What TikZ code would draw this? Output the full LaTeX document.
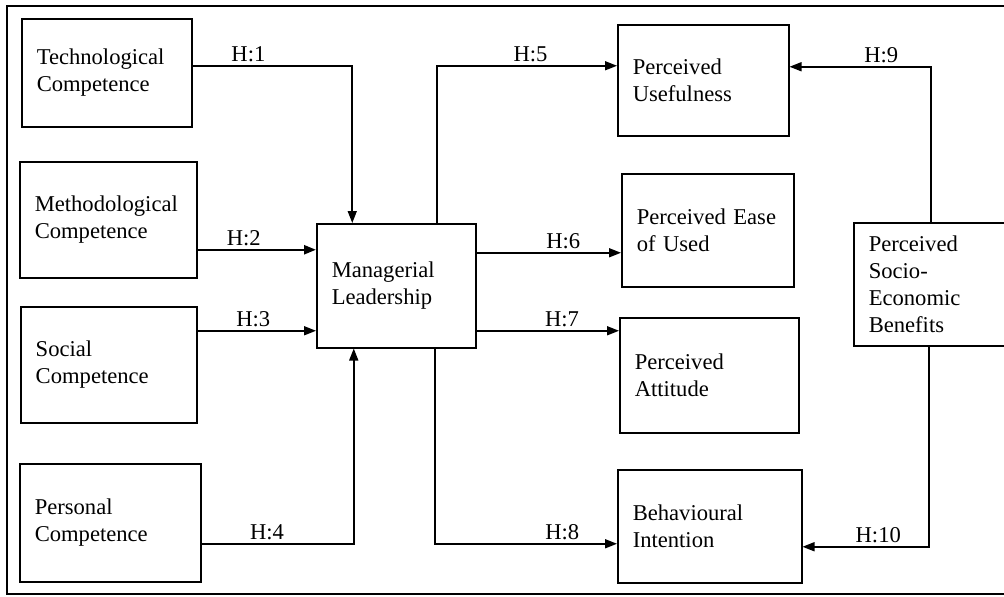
\documentclass[tikz,border=0pt]{standalone}
\usepackage{fontspec}
\setmainfont{Liberation Serif}
\usetikzlibrary{arrows.meta,positioning}
\hyphenpenalty=10000
\exhyphenpenalty=10000

\begin{document}
\begin{tikzpicture}[
  x=0.5pt, y=-0.5pt,
  font=\fontsize{11.3}{13.5}\selectfont,
  box/.style={draw, line width=0.75pt, anchor=north west, align=left, inner xsep=7.5pt, inner ysep=0pt},
  arr/.style={-{Triangle[length=6pt,width=4.5pt]}, line width=0.8pt},
  lbl/.style={above, inner sep=1.5pt}
]
\useasboundingbox (0,0) rectangle (1004,596);
\draw[line width=0.8pt] (7,6) rectangle (1014,594);

% left column
\node[box, text width=70pt, minimum height=54pt] (tech) at (21,18) {Technological\\Competence};
\node[box, text width=73.5pt, minimum height=58pt] (meth) at (19,161) {Methodological\\Competence};
\node[box, text width=73pt, minimum height=58pt] (social) at (20,306) {Social\\Competence};
\node[box, text width=75.5pt, minimum height=59pt] (personal) at (19,463) {Personal\\Competence};

% centre
\node[box, text width=64.5pt, minimum height=62pt] (manag) at (316,223) {Managerial\\Leadership};

% right column
\node[box, text width=70.5pt, minimum height=55.5pt] (useful) at (617,24) {Perceived\\Usefulness};
\node[box, text width=71pt, minimum height=56.5pt] (ease) at (621,173) {Perceived Ease\\of Used};
\node[box, text width=74.5pt, minimum height=57.5pt] (attitude) at (619,317) {Perceived\\Attitude};
\node[box, text width=77pt, minimum height=56.5pt] (intention) at (617,469) {Behavioural\\Intention};
\node[box, text width=67.5pt, minimum height=61.5pt] (socio) at (853,222) {Perceived\\Socio-\\Economic\\Benefits};

% hypotheses
\draw[arr] ([yshift=3.5pt]tech.east) -| node[lbl, pos=0.175] {H:1} ([xshift=-22pt]manag.north);
\draw[arr, line width=1.2pt] ([yshift=-15pt]meth.east) -- node[lbl, pos=0.39] {H:2} ([yshift=18pt]manag.west);
\draw[arr] ([yshift=17pt]social.east) -- node[lbl, pos=0.47] {H:3} ([yshift=-22.5pt]manag.west);
\draw[arr] ([yshift=-10.5pt]personal.east) -| node[lbl, pos=0.215] {H:4} ([xshift=-21.25pt]manag.south);
\draw[arr] ([xshift=20.25pt]manag.north) |- node[lbl, pos=0.76] {H:5} ([yshift=7.25pt]useful.west);
\draw[arr] ([yshift=16.5pt]manag.east) -- node[lbl, pos=0.6] {H:6} ([yshift=-11.25pt]ease.west);
\draw[arr] ([yshift=-22.5pt]manag.east) -- node[lbl, pos=0.6] {H:7} ([yshift=22.25pt]attitude.west);
\draw[arr] ([xshift=19.25pt]manag.south) |- node[lbl, pos=0.85] {H:8} ([yshift=-8.75pt]intention.west);
\draw[arr] ([xshift=-2.75pt]socio.north) |- node[lbl, pos=0.675] {H:9} ([yshift=6.75pt]useful.east);
\draw[arr] ([xshift=-3.75pt]socio.south) |- node[lbl, pos=0.7] {H:10} ([yshift=-10.25pt]intention.east);
\end{tikzpicture}
\end{document}
